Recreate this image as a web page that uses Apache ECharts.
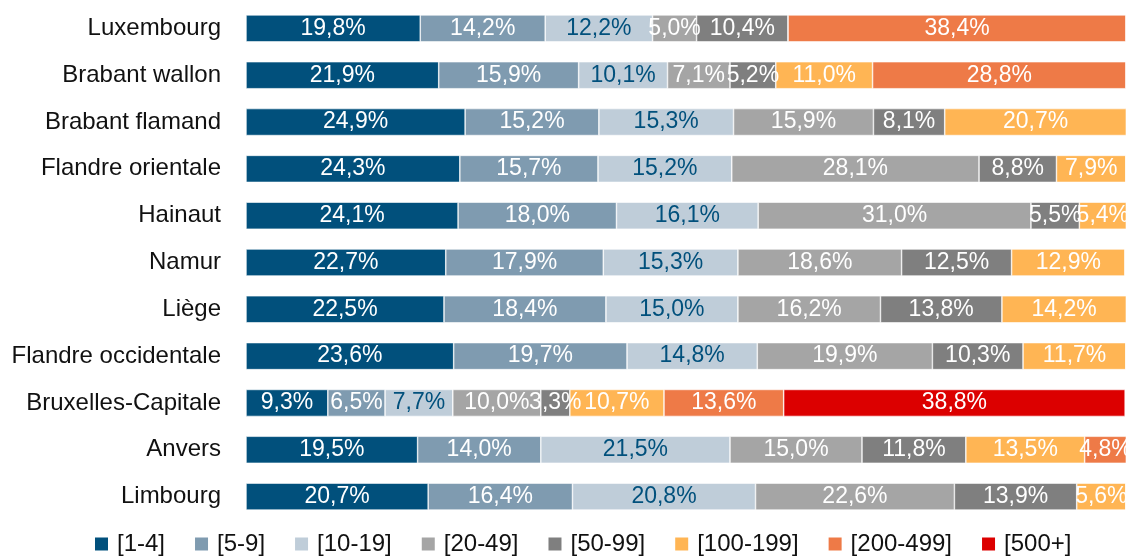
<!DOCTYPE html>
<html>
<head>
<meta charset="utf-8">
<script src="https://cdn.jsdelivr.net/npm/echarts@6/dist/echarts.min.js"></script>
<style>
  html, body { margin: 0; padding: 0; background: #fff; }
  #chart { width: 1129px; height: 558px; }
</style>
</head>
<body>
<div id="chart"></div>
<script>
  // provinces, top to bottom
  var provinces = ['Luxembourg', 'Brabant wallon', 'Brabant flamand', 'Flandre orientale', 'Hainaut',
    'Namur', 'Liège', 'Flandre occidentale', 'Bruxelles-Capitale', 'Anvers', 'Limbourg'];

  // size classes (legend)
  var classes = ['[1-4]', '[5-9]', '[10-19]', '[20-49]', '[50-99]', '[100-199]', '[200-499]', '[500+]'];

  // share per class, one array per class, same order as provinces (%)
  var s1_4     = [19.8, 21.9, 24.9, 24.3, 24.1, 22.7, 22.5, 23.6,  9.3, 19.5, 20.7];
  var s5_9     = [14.2, 15.9, 15.2, 15.7, 18.0, 17.9, 18.4, 19.7,  6.5, 14.0, 16.4];
  var s10_19   = [12.2, 10.1, 15.3, 15.2, 16.1, 15.3, 15.0, 14.8,  7.7, 21.5, 20.8];
  var s20_49   = [ 5.0,  7.1, 15.9, 28.1, 31.0, 18.6, 16.2, 19.9, 10.0, 15.0, 22.6];
  var s50_99   = [10.4,  5.2,  8.1,  8.8,  5.5, 12.5, 13.8, 10.3,  3.3, 11.8, 13.9];
  var s100_199 = [ 0,   11.0, 20.7,  7.9,  5.4, 12.9, 14.2, 11.7, 10.7, 13.5,  5.6];
  var s200_499 = [38.4, 28.8,  0,    0,    0,    0,    0,    0,   13.6,  4.8,  0];
  var s500     = [ 0,    0,    0,    0,    0,    0,    0,    0,   38.8,  0,    0];

  var values = [s1_4, s5_9, s10_19, s20_49, s50_99, s100_199, s200_499, s500];
  var colors = ['#01507c', '#7f9bb0', '#bfcdd9', '#a5a5a5', '#7f7f7f', '#ffb554', '#ee7a47', '#dc0000'];
  var labelColors = ['#fff', '#fff', '#01507c', '#fff', '#fff', '#fff', '#fff', '#fff'];

  var font = '"Liberation Sans", Arial, sans-serif';

  var series = classes.map(function (name, i) {
    return {
      name: name,
      type: 'bar',
      stack: 'total',
      barWidth: 27,
      data: values[i],
      itemStyle: { color: colors[i], borderColor: '#fff', borderWidth: 0.6 },
      label: {
        show: true,
        position: 'inside',
        color: labelColors[i],
        fontSize: 23,
        fontFamily: font,
        formatter: function (p) {
          if (!p.value) return '';
          return p.value.toFixed(1).replace('.', ',') + '%';
        }
      },
      emphasis: { disabled: true }
    };
  });

  var chart = echarts.init(document.getElementById('chart'));
  chart.setOption({
    animation: false,
    color: colors,
    textStyle: { fontFamily: font },
    grid: { left: 246, right: 3, top: 5, bottom: 38 },
    xAxis: {
      type: 'value',
      min: 0,
      max: 100,
      show: false
    },
    yAxis: {
      type: 'category',
      inverse: true,
      data: provinces,
      axisLine: { show: false },
      axisTick: { show: false },
      axisLabel: { color: '#111', fontSize: 24, fontFamily: font, margin: 25 }
    },
    legend: {
      left: 88,
      top: 527,
      itemWidth: 15,
      itemHeight: 15,
      itemGap: 28,
      icon: 'rect',
      textStyle: { color: '#111', fontSize: 24, fontFamily: font, padding: [0, 0, 0, 3] }
    },
    series: series
  });
</script>
</body>
</html>
